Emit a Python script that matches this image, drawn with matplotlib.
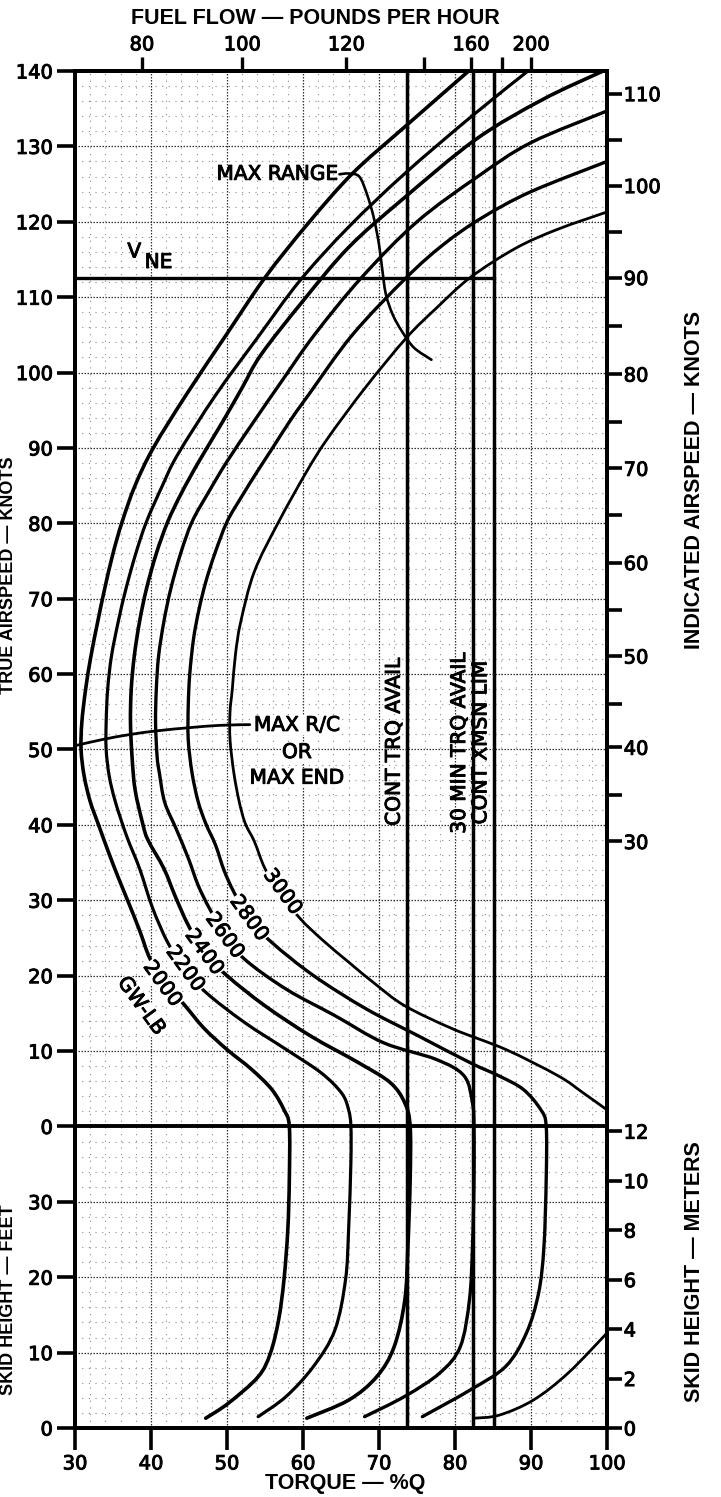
import matplotlib
matplotlib.use("Agg")
import matplotlib.pyplot as plt
import matplotlib.patheffects as pe
from matplotlib.path import Path
from matplotlib.patches import PathPatch
import numpy as np

plt.rcParams['font.family'] = ['DejaVu Sans']

# ---------------- data ----------------
# Upper panel: true airspeed (knots) vs torque (%Q) for each gross weight
tas_2000 = [0, 2.2, 4.9, 7.6, 10.2, 13, 16, 19, 22.2, 26, 29.8, 33, 36.4, 40, 43.1, 46.5, 50, 53.6, 58,
            62.4, 67, 71.3, 76, 80.2, 85, 90, 97, 105, 112.6, 119.7, 126.4, 132.6, 140]
q_2000 = [58.2, 57.5, 55.9, 53.2, 50.0, 47.0, 44.5, 42.0, 39.9, 38.5, 37.0, 35.7, 34.4, 33.1, 32.0, 31.2,
          30.8, 30.9, 31.4, 32.1, 33.0, 33.9, 35.0, 36.2, 37.9, 40.3, 44.6, 49.9, 55.0, 60.6, 66.5, 73.4, 81.8]

tas_2200 = [0, 2.2, 4.4, 7.1, 10.2, 13.8, 17.8, 21, 24.4, 29, 34.2, 38.5, 43.1, 46.5, 50, 53.6, 58, 62.4,
            67, 71.3, 76, 80.2, 85, 89.1, 97, 104.6, 112.2, 119.3, 126.4, 134, 140]
q_2200 = [66.3, 66.0, 65.1, 62.4, 57.8, 52.3, 47.2, 44.4, 42.2, 40.2, 38.5, 36.8, 35.3, 34.5, 34.1, 34.1,
          34.3, 34.8, 35.7, 36.7, 38.0, 39.4, 41.5, 43.5, 48.5, 54.0, 59.6, 66.0, 73.4, 82.2, 89.6]

tas_2400 = [0, 3.1, 5.8, 8.4, 12, 16, 20, 23.1, 26.7, 30.5, 34.2, 38, 40.2, 44.7, 49.1, 53.6, 58, 62.4, 67,
            71.3, 76, 80.2, 84, 88.2, 93.6, 98, 102.4, 109.5, 116.6, 122.9, 130.9, 136.2, 140]
q_2400 = [74.1, 73.4, 71.5, 67.4, 61.0, 55.0, 50.0, 47.0, 44.9, 43.2, 41.7, 39.6, 38.9, 37.9, 37.5, 37.3,
          37.4, 37.8, 38.5, 39.4, 40.7, 42.2, 44.0, 46.3, 49.5, 52.0, 54.5, 60.0, 66.0, 73.0, 82.7, 91.5, 99.5]

tas_2600 = [0, 3.1, 6.7, 8.9, 11.1, 14.7, 18.2, 22.2, 25.5, 28.9, 32, 35.6, 39.5, 43, 46.9, 49.1, 53.6, 58,
            62.4, 67, 71.3, 76, 80.2, 84, 88.2, 93.6, 99, 105, 112.6, 120, 126, 130.5, 134.7]
q_2600 = [82.5, 82.3, 81.2, 77.5, 70.6, 64.2, 57.8, 52.3, 49.7, 47.7, 46.2, 44.9, 43.3, 41.8, 41.1, 40.8,
          40.6, 40.7, 41.0, 41.7, 42.6, 43.9, 45.4, 47.5, 50.0, 53.6, 57.3, 61.5, 67.7, 75.0, 83.0, 90.0, 100.0]

tas_2800 = [0, 2.2, 4.9, 6.7, 8.4, 12, 15.6, 20, 24.4, 27.6, 31.1, 34, 37.3, 40.2, 43.1, 46.9, 51.3, 55.8,
            60, 64.7, 68.5, 72.2, 76, 80.2, 83.5, 86.9, 90, 93.6, 97, 105, 112.6, 117, 120.5, 124, 128]
q_2800 = [92.0, 91.3, 89.0, 85.8, 82.1, 75.2, 68.3, 61.4, 55.9, 52.9, 50.9, 49.6, 48.5, 47.2, 46.2, 45.4,
          44.9, 44.9, 45.1, 45.6, 46.3, 47.2, 48.4, 50.0, 51.9, 54.0, 56.0, 58.3, 60.7, 66.5, 73.6, 78.5,
          83.5, 90.0, 100.0]

tas_3000 = [2.2, 4.5, 6.7, 10.2, 12.9, 16, 18.9, 21.8, 24.7, 27.6, 31, 34.2, 37.8, 40.2, 43.1, 46.9, 51.3,
            55, 58, 62.5, 66.9, 73.6, 80.2, 86.9, 91.2, 98, 104.6, 108.5, 112.6, 116.5, 119, 121.3]
q_3000 = [100.0, 96.8, 93.6, 86.7, 79.8, 73.4, 69.5, 66.0, 62.6, 59.6, 57.0, 55.0, 53.6, 52.4, 51.6, 50.9,
          50.4, 50.4, 50.7, 51.1, 51.8, 53.6, 56.8, 60.5, 63.2, 68.2, 73.6, 77.5, 82.0, 88.0, 93.5, 100.0]

# Lower panel: skid height (feet) vs torque (%Q)
skid_2000 = [40, 33, 26.3, 19.7, 14.4, 9.9, 6.8, 3.3, 1.3]
qs_2000 = [58.2, 58.2, 58.0, 57.5, 56.8, 55.7, 54.1, 50.2, 47.2]
skid_2200 = [40, 35.2, 26.3, 19.7, 13, 8.2, 4.2, 1.5]
qs_2200 = [66.3, 66.3, 66.0, 65.6, 64.2, 61.4, 57.8, 54.1]
skid_2400 = [40, 33, 24, 17, 10.8, 6.8, 3.7, 1.3]
qs_2400 = [74.1, 74.1, 73.8, 73.4, 72.0, 69.7, 66.0, 60.5]
skid_2600 = [40, 33, 24, 17, 10.8, 7.3, 4.2, 1.5]
qs_2600 = [82.5, 82.5, 82.3, 81.9, 80.7, 78.0, 73.4, 68.1]
skid_2800 = [40, 33, 24, 17.9, 12.6, 8.2, 5.1, 1.5]
qs_2800 = [92.0, 92.0, 91.7, 91.0, 89.4, 86.7, 82.1, 75.7]
skid_3000 = [1.3, 1.7, 3.7, 7.3, 12.6]
qs_3000 = [82.5, 85.8, 90.3, 94.9, 100.0]

gw_labels = ["3000", "2800", "2600", "2400", "2200", "2000", "GW-LB"]
gw_label_q = [57.3, 52.9, 49.7, 47.0, 44.5, 41.5, 38.7]
gw_label_tas = [31.1, 27.6, 25.3, 23.1, 20.9, 18.9, 16.0]

# Max range line (torque, TAS)
maxrange_q = [64.8, 66.0, 67.4, 68.4, 69.3, 70.0, 70.4, 70.9, 71.8, 73.0, 74.6, 76.9]
maxrange_tas = [126.3, 126.4, 126.0, 123.7, 120.6, 117.0, 113.9, 110.4, 107.7, 105.5, 103.3, 101.7]

# Max R/C or max endurance line
maxrc_q = [30.0, 33.5, 37.3, 41.0, 45.1, 49.0, 53.0]
maxrc_tas = [50.5, 51.3, 52.0, 52.5, 52.9, 53.2, 53.3]

# Limits
vne_tas = 112.6
cont_trq_q = 73.7
min30_trq_q = 82.4
xmsn_lim_q = 85.1

# Axis scales
torque_ticks = [30, 40, 50, 60, 70, 80, 90, 100]
left_tick_labels = ["0", "10", "20", "30", "0", "10", "20", "30", "40", "50", "60", "70", "80", "90",
                    "100", "110", "120", "130", "140"]
fuel_flow = [80, 100, 120, 140, 160, 180, 200]
fuel_flow_q = [38.8, 52.0, 65.7, 75.9, 82.1, 86.2, 90.0]
fuel_labels = ["80", "100", "120", "", "160", "", "200"]
ias_knots = [30, 35, 40, 45, 50, 55, 60, 65, 70, 75, 80, 85, 90, 95, 100, 105, 110]
ias_tas = [37.8, 43.9, 50.3, 56.1, 62.4, 68.5, 74.8, 81.1, 87.3, 93.5, 99.8, 106.2, 112.6, 118.7, 124.8,
           130.8, 137.0]
skid_meters = [0, 2, 4, 6, 8, 10, 12]
FT_PER_M = 3.2808
OFF = 40  # the airspeed panel sits above 40 ft of skid height

# ---------------- helpers ----------------
def smooth_line(ax, xs, ys, lw, z=3):
    """Draw a smooth curve through the given points (Catmull-Rom as Bezier path)."""
    P = np.column_stack([xs, ys]).astype(float)
    n = len(P)
    verts = [P[0]]
    codes = [Path.MOVETO]
    for i in range(n - 1):
        p0 = P[i - 1] if i > 0 else P[i]
        p1, p2 = P[i], P[i + 1]
        p3 = P[i + 2] if i + 2 < n else P[i + 1]
        c1 = p1 + (p2 - p0) / 6.0
        c2 = p2 - (p3 - p1) / 6.0
        verts += [c1, c2, p2]
        codes += [Path.CURVE4] * 3
    patch = PathPatch(Path(verts, codes), facecolor='none', edgecolor='black', lw=lw,
                      capstyle='round', joinstyle='round', zorder=z)
    ax.add_patch(patch)

thick = [pe.withStroke(linewidth=0.7, foreground='black')]

# ---------------- figure ----------------
W, H = 721, 1497
fig = plt.figure(figsize=(W / 100, H / 100), dpi=100)
ax = fig.add_axes([75 / W, 1 - 1428 / H, 532 / W, (1428 - 71) / H])
ax.set_xlim(30, 100)
ax.set_ylim(0, 180)

# grid (graph paper)
for x in np.arange(30, 101, 2):
    major = (x % 10 == 0)
    ax.axvline(x, color='#333333' if major else '#8a8a8a', lw=0.9 if major else 0.8,
               ls=(0, (1.2, 1.2)) if major else (0, (1, 5)), zorder=0)
for y in np.arange(0, 181, 2):
    major = (y % 10 == 0)
    ax.axhline(y, color='#333333' if major else '#8a8a8a', lw=0.9 if major else 0.8,
               ls=(0, (1.2, 1.2)) if major else (0, (1, 5)), zorder=0)

# GW curves
pairs = [(skid_2000, qs_2000, tas_2000, q_2000, 2.6),
         (skid_2200, qs_2200, tas_2200, q_2200, 2.3),
         (skid_2400, qs_2400, tas_2400, q_2400, 2.6),
         (skid_2600, qs_2600, tas_2600, q_2600, 2.4),
         (skid_2800, qs_2800, tas_2800, q_2800, 2.4)]
for skid, qs, tas, q, lw in pairs:
    ys = list(skid[::-1]) + [OFF + t for t in tas[1:]]
    xs = list(qs[::-1]) + list(q[1:])
    smooth_line(ax, xs, ys, lw)
smooth_line(ax, q_3000, [OFF + t for t in tas_3000], 2.0)
smooth_line(ax, qs_3000, skid_3000, 2.0)

# limit lines
for qv in (cont_trq_q, min30_trq_q, xmsn_lim_q):
    ax.plot([qv, qv], [0, 180], color='black', lw=2.5, zorder=4)
ax.plot([30, xmsn_lim_q], [OFF + vne_tas] * 2, color='black', lw=2.4, zorder=4)
ax.axhline(OFF, color='black', lw=2.8, zorder=4)

# max range / max R/C lines
smooth_line(ax, maxrange_q, [OFF + t for t in maxrange_tas], 1.9, z=4)
smooth_line(ax, maxrc_q, [OFF + t for t in maxrc_tas], 2.0, z=4)

# annotations
fs = 14.5
tk = dict(fontsize=fs, zorder=6, path_effects=thick)
wb = dict(facecolor='white', edgecolor='none', pad=0.5)
ax.text(64.6, OFF + 126.3, 'MAX RANGE', ha='right', va='center', **tk)
ax.text(37.8, OFF + 116.0, 'V', ha='center', va='center', **tk)
ax.text(41.0, OFF + 114.6, 'NE', ha='center', va='center', **tk)
ax.text(59.2, OFF + 53.2, 'MAX R/C', ha='center', va='center', bbox=wb, **tk)
ax.text(59.2, OFF + 49.6, 'OR', ha='center', va='center', bbox=wb, **tk)
ax.text(59.2, OFF + 46.2, 'MAX END', ha='center', va='center', bbox=wb, **tk)
ax.text(72.0, OFF + 62.2, 'CONT TRQ AVAIL', rotation=90, ha='center', va='top', **tk)
ax.text(80.6, OFF + 62.9, '30 MIN TRQ AVAIL', rotation=90, ha='center', va='top', **tk)
ax.text(83.4, OFF + 61.8, 'CONT XMSN LIM', rotation=90, ha='center', va='top', **tk)
for lab, lq, lt in zip(gw_labels, gw_label_q, gw_label_tas):
    ax.text(lq, OFF + lt, lab, rotation=-54, ha='center', va='center', rotation_mode='anchor',
            bbox=dict(facecolor='white', edgecolor='none', pad=0.3), **tk)

# ---------------- axes / ticks ----------------
for s in ('left', 'bottom', 'top', 'right'):
    ax.spines[s].set_linewidth(2.8)
ax.set_xticks(torque_ticks)
ax.set_xticklabels([str(t) for t in torque_ticks])
ax.set_yticks(np.arange(0, 181, 10))
ax.set_yticklabels(left_tick_labels)
ax.tick_params(axis='x', direction='out', length=16, width=2.6, labelsize=14, pad=3)
ax.tick_params(axis='y', direction='out', length=13, width=2.6, labelsize=14, pad=3)

ax_top = ax.twiny()
ax_top.set_xlim(30, 100)
ax_top.set_xticks(fuel_flow_q)
ax_top.set_xticklabels(fuel_labels)
ax_top.tick_params(axis='x', direction='out', length=10, width=2.4, labelsize=14, pad=2)

ax_r = ax.twinx()
ax_r.set_ylim(0, 180)
r_ticks = [OFF + t for t in ias_tas] + [m * FT_PER_M for m in skid_meters]
r_labels = [str(k) if k % 10 == 0 else '' for k in ias_knots] + [str(m) for m in skid_meters]
ax_r.set_yticks(r_ticks)
ax_r.set_yticklabels(r_labels)
ax_r.tick_params(axis='y', direction='out', length=11, width=2.6, labelsize=14, pad=1)
for a in (ax_top, ax_r):
    for s in ('left', 'bottom', 'top', 'right'):
        a.spines[s].set_linewidth(2.8)

for lab in (ax.get_xticklabels() + ax.get_yticklabels() + ax_top.get_xticklabels()
            + ax_r.get_yticklabels()):
    lab.set_path_effects(thick)

# ---------------- titles ----------------
tfont = dict(family=['Liberation Sans', 'DejaVu Sans'], weight='bold', fontsize=15.5)
fig.text(315 / W, 1 - 18 / H, 'FUEL FLOW — POUNDS PER HOUR', ha='center', va='center', **tfont)
fig.text(345 / W, 1 - 1484 / H, 'TORQUE — %Q', ha='center', va='center', **tfont)
fig.text(694 / W, 1 - 480 / H, 'INDICATED AIRSPEED — KNOTS', rotation=90, ha='center', va='center', **tfont)
fig.text(694 / W, 1 - 1272 / H, 'SKID HEIGHT — METERS', rotation=90, ha='center', va='center', **tfont)
lfont = dict(family=['Liberation Sans', 'DejaVu Sans'], weight='bold', fontsize=13)
fig.text(9 / W, 1 - 575 / H, 'TRUE AIRSPEED — KNOTS', rotation=90, ha='center', va='center', **lfont)
fig.text(9 / W, 1 - 1300 / H, 'SKID HEIGHT — FEET', rotation=90, ha='center', va='center', **lfont)

fig.savefig('out.png', dpi=100)
